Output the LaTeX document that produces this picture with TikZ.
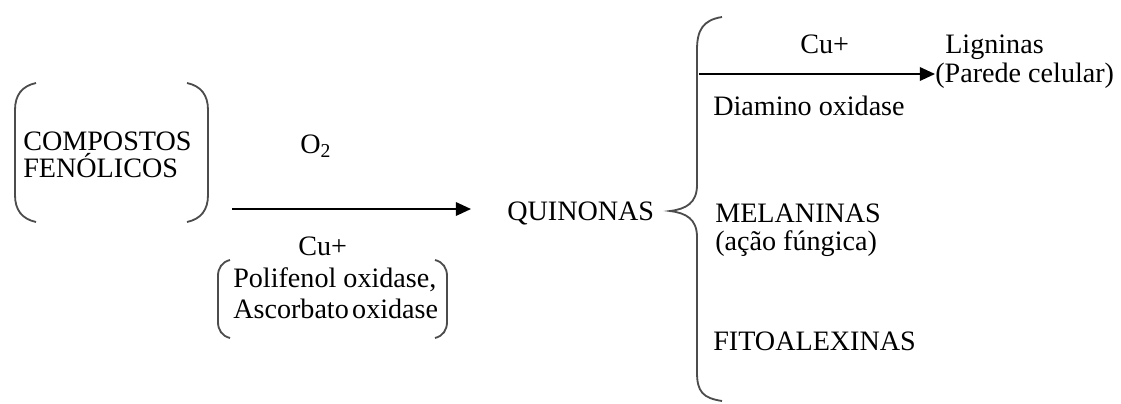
\documentclass[tikz,border=0pt]{standalone}
\usepackage{fontspec}
\setmainfont{Liberation Serif}
\usetikzlibrary{arrows.meta}

\begin{document}
\begin{tikzpicture}[x=0.025cm, y=-0.025cm,
    every node/.style={font=\fontsize{20}{24}\selectfont},
    lbl/.style={anchor=base west, inner sep=0pt},
    paren/.style={draw=black!70, line width=1.3pt},
    reac/.style={line width=1.3pt, -{Triangle[length=3.8mm,width=3.4mm]}}]

  \useasboundingbox (0,0) rectangle (1121,403);

  % substrate
  \node[lbl] (comp) at (23,150) {COMPOSTOS};
  \node[lbl] (fen) at (23,177) {FENÓLICOS};
  \draw[paren] (36,83) .. controls (22,86) and (15,95) .. (15,110) -- (15,195)
               .. controls (15,210) and (22,219) .. (36,222);
  \draw[paren] (187,83) .. controls (201,86) and (208,95) .. (208,110) -- (208,195)
               .. controls (208,210) and (201,219) .. (187,222);

  % main reaction
  \node[lbl] (oxy) at (300,153) {O\textsubscript{2}};
  \node[lbl] (cu1) at (298,255) {Cu+};
  \node[lbl] (enz1) at (233,287) {Polifenol oxidase,};
  \node[lbl] (enz2) at (233,318) {Ascorbato\hspace{0.12em}oxidase};
  \draw[paren] (230,260) .. controls (222,262) and (218,268) .. (218,276) -- (218,322)
               .. controls (218,330) and (222,336) .. (230,338);
  \draw[paren] (435,260) .. controls (443,262) and (447,268) .. (447,276) -- (447,322)
               .. controls (447,330) and (443,336) .. (435,338);
  \coordinate (r1) at (232,209);
  \coordinate (r2) at (471,209);
  \draw[reac] (r1) -- (r2);

  \node[lbl] (quin) at (507,220) {QUINONAS};

  % brace
  \draw[paren] (722,17) .. controls (703,20) and (697,30) .. (697,50) -- (697,185)
               .. controls (697,203) and (686,209) .. (670,211)
               .. controls (686,213) and (697,219) .. (697,237) -- (697,372)
               .. controls (697,392) and (703,398) .. (722,401);

  % products
  \node[lbl] (cu2) at (800,53) {Cu+};
  \node[lbl] (lig) at (945,53) {Ligninas};
  \node[lbl] (par) at (935,82) {(Parede celular)};
  \node[lbl] (diam) at (713,115) {Diamino oxidase};
  \coordinate (r3) at (699,74);
  \draw[reac] (r3) -- (par.west |- r3);
  \node[lbl] (mel) at (715,222) {MELANINAS};
  \node[lbl] (fung) at (715,250) {(ação fúngica)};
  \node[lbl] (fito) at (713,350) {FITOALEXINAS};
\end{tikzpicture}
\end{document}
